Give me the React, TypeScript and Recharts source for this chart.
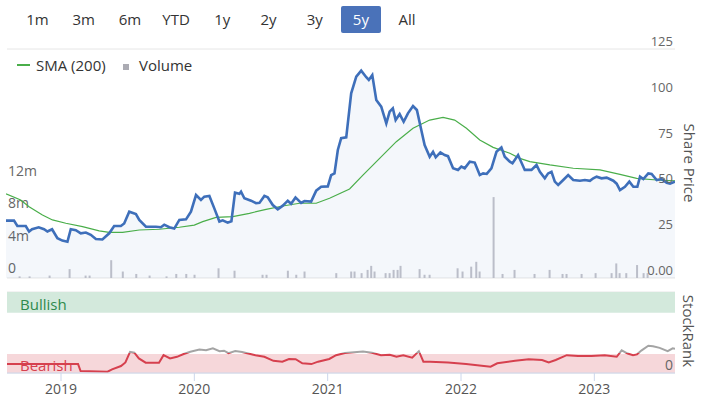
import React from 'react';
import { ComposedChart, BarChart, LineChart, Area, Line, Bar, XAxis, YAxis, CartesianGrid, ReferenceArea } from 'recharts';

const FONT = '"Open Sans", "Noto Sans", sans-serif';

// range selector
const ranges = ['1m', '3m', '6m', 'YTD', '1y', '2y', '3y', '5y', 'All'];
const selectedRange = '5y';

// time is in decimal years
const timeDomain = [2018.595, 2023.605];
const yearTicks = [2019, 2020, 2021, 2022, 2023];

const priceTicks = [0, 25, 50, 75, 100, 125];
const volumeTicks = [0, 4, 8, 12]; // millions
const volumeAxisMax = 28.3;
const rankTicks = [0, 100];

const priceDates = [
  2018.595, 2018.655, 2018.68, 2018.743, 2018.768, 2018.79, 2018.84, 2018.88, 2018.905, 2018.94,
  2018.98, 2019.017, 2019.055, 2019.08, 2019.118, 2019.155, 2019.193, 2019.23, 2019.268, 2019.317,
  2019.368, 2019.405, 2019.455, 2019.48, 2019.518, 2019.568, 2019.593, 2019.643, 2019.718, 2019.755,
  2019.78, 2019.818, 2019.855, 2019.893, 2019.943, 2019.98, 2020.018, 2020.055, 2020.08, 2020.118,
  2020.155, 2020.193, 2020.218, 2020.255, 2020.283, 2020.31, 2020.343, 2020.355, 2020.38, 2020.43,
  2020.468, 2020.493, 2020.53, 2020.555, 2020.593, 2020.63, 2020.668, 2020.705, 2020.73, 2020.763,
  2020.805, 2020.83, 2020.88, 2020.918, 2020.955, 2021.005, 2021.03, 2021.055, 2021.08, 2021.105,
  2021.143, 2021.18, 2021.218, 2021.255, 2021.293, 2021.312, 2021.338, 2021.368, 2021.405, 2021.443,
  2021.468, 2021.492, 2021.513, 2021.543, 2021.573, 2021.605, 2021.643, 2021.672, 2021.705, 2021.73,
  2021.768, 2021.793, 2021.813, 2021.848, 2021.88, 2021.905, 2021.943, 2021.98, 2022.005, 2022.03,
  2022.068, 2022.105, 2022.143, 2022.168, 2022.195, 2022.23, 2022.268, 2022.305, 2022.33, 2022.368,
  2022.388, 2022.43, 2022.48, 2022.53, 2022.568, 2022.593, 2022.63, 2022.655, 2022.68, 2022.705,
  2022.73, 2022.768, 2022.805, 2022.843, 2022.893, 2022.93, 2022.968, 2022.993, 2023.018, 2023.055,
  2023.093, 2023.143, 2023.168, 2023.193, 2023.23, 2023.263, 2023.293, 2023.323, 2023.343, 2023.368,
  2023.405, 2023.43, 2023.468, 2023.505, 2023.543, 2023.568, 2023.605,
];
const priceValues = [
  31.3, 31.3, 28.4, 28.4, 25.3, 26.6, 27.7, 26.6, 25.4, 26.6,
  21.7, 20.4, 19.8, 26.6, 26.1, 24.4, 24.8, 23.6, 21.3, 21.0,
  24.4, 28.4, 28.4, 29.8, 36.2, 34.9, 31.7, 28.0, 28.0, 27.7,
  29.1, 27.7, 27.0, 31.7, 32.0, 36.2, 45.3, 42.6, 44.4, 44.8,
  38.0, 30.8, 31.5, 30.2, 31.0, 46.6, 46.0, 47.1, 43.5, 42.2,
  40.8, 41.0, 44.8, 44.0, 39.8, 37.5, 39.5, 42.2, 40.5, 44.0,
  41.0, 42.0, 41.7, 47.7, 49.8, 50.0, 56.2, 57.1, 69.9, 76.3,
  76.8, 100.8, 109.9, 113.2, 109.6, 108.1, 110.8, 97.2, 93.5, 84.4,
  90.8, 92.6, 86.2, 89.5, 85.3, 89.9, 93.9, 91.7, 80.8, 72.6,
  66.2, 68.9, 65.9, 68.6, 67.1, 66.5, 59.9, 59.0, 60.8, 59.9,
  63.5, 63.0, 56.2, 57.1, 56.8, 59.9, 68.9, 71.3, 66.2, 63.5,
  62.6, 67.1, 59.0, 59.0, 61.7, 58.0, 54.4, 57.1, 58.0, 52.6,
  50.8, 53.5, 56.2, 53.5, 53.1, 53.5, 53.0, 54.4, 55.3, 54.4,
  54.8, 53.1, 51.5, 48.0, 49.8, 52.6, 49.8, 49.8, 55.3, 54.0,
  57.1, 56.8, 53.5, 54.0, 52.0, 51.5, 52.6,
];

// 200 day simple moving average
const smaDates = [
  2018.595, 2018.705, 2018.768, 2018.868, 2018.943, 2019.043, 2019.168, 2019.293, 2019.368, 2019.468,
  2019.593, 2019.743, 2019.893, 2020.005, 2020.068, 2020.168, 2020.293, 2020.418, 2020.543, 2020.668,
  2020.793, 2020.918, 2021.018, 2021.168, 2021.268, 2021.393, 2021.518, 2021.643, 2021.768, 2021.868,
  2021.955, 2022.043, 2022.143, 2022.243, 2022.368, 2022.443, 2022.518, 2022.668, 2022.843, 2023.043,
  2023.193, 2023.318, 2023.468, 2023.605,
];
const smaValues = [
  45.9, 42.6, 38.9, 34.4, 31.7, 29.9, 28.0, 25.7, 24.9, 24.9,
  26.2, 26.6, 27.7, 28.9, 30.8, 33.1, 33.5, 35.3, 37.5, 39.3,
  40.8, 40.8, 43.5, 48.6, 56.2, 65.3, 74.4, 81.7, 86.2, 87.7,
  86.2, 81.7, 75.3, 71.3, 68.1, 65.3, 63.5, 61.7, 59.9, 59.0,
  56.6, 54.4, 53.5, 53.0,
];

// volume, millions of shares
const volumeDates = [
  2018.693, 2018.768, 2018.918, 2019.068, 2019.188, 2019.218, 2019.38, 2019.467, 2019.568, 2019.668,
  2019.795, 2019.868, 2019.943, 2020.005, 2020.185, 2020.305, 2020.515, 2020.545, 2020.705,
  2020.768, 2020.83, 2021.068, 2021.18, 2021.205, 2021.258, 2021.303, 2021.33, 2021.355, 2021.438,
  2021.468, 2021.498, 2021.528, 2021.55, 2021.693, 2021.73, 2021.768, 2021.978, 2022.015, 2022.08,
  2022.118, 2022.143, 2022.248, 2022.315, 2022.405, 2022.555, 2022.668, 2022.765, 2022.795, 2022.908,
  2023.013, 2023.133, 2023.168, 2023.193, 2023.243, 2023.324, 2023.373, 2023.403,
];
const volumeValues = [
  0.2, 0.2, 0.3, 1.1, 0.3, 0.3, 2.2, 0.8, 0.5, 0.3,
  0.2, 0.5, 0.5, 0.4, 1.2, 0.9, 0.4, 0.4, 0.9,
  0.4, 0.8, 0.6, 0.8, 0.8, 0.6, 1.0, 1.5, 0.8, 0.6,
  0.6, 1.0, 1.0, 1.5, 1.1, 0.4, 0.4, 1.2, 0.8, 1.4,
  2.0, 0.8, 10.0, 0.5, 1.0, 0.5, 1.0, 0.5, 0.5, 0.5,
  0.6, 0.6, 1.8, 0.6, 0.6, 1.6, 0.6, 0.6,
];

// StockRank (0 - 100)
const rankDates = [
  2018.595, 2019.128, 2019.147, 2019.349, 2019.383, 2019.45, 2019.483, 2019.518, 2019.55, 2019.584,
  2019.635, 2019.735, 2019.769, 2019.818, 2019.87, 2019.92, 2019.97, 2020.038, 2020.088, 2020.139,
  2020.189, 2020.223, 2020.256, 2020.307, 2020.358, 2020.458, 2020.525, 2020.593, 2020.66, 2020.71,
  2020.76, 2020.81, 2020.878, 2020.928, 2021.012, 2021.063, 2021.13, 2021.198, 2021.265, 2021.332,
  2021.4, 2021.466, 2021.516, 2021.567, 2021.634, 2021.684, 2021.718, 2021.768, 2021.903, 2022.038,
  2022.172, 2022.222, 2022.272, 2022.406, 2022.508, 2022.608, 2022.658, 2022.71, 2022.793, 2022.878,
  2022.978, 2023.078, 2023.168, 2023.205, 2023.25, 2023.29, 2023.32, 2023.355, 2023.405, 2023.44,
  2023.49, 2023.55, 2023.588, 2023.605,
];
const rankValues = [
  11, 11, 2.5, 1.6, 4.5, 8.6, 13, 26, 25, 18,
  12.7, 12.7, 22, 18, 20, 23.5, 26.3, 29, 28, 30.5,
  27, 27.5, 24.5, 27, 26, 22, 20, 15, 14, 17.3,
  17, 12, 11, 14, 17.3, 22, 24.7, 25.5, 26.5, 25,
  22, 22.5, 20, 22, 19, 27, 14, 14, 13, 11,
  8.6, 7.8, 12, 15, 17, 16, 13, 16, 22, 21,
  21, 22, 20, 28, 24, 22, 23, 28, 33.7, 33,
  31, 27, 30.5, 30,
];
const bearishBand = [0, 23.5];
const bullishBand = [74.5, 100];
const rankColourSwitch = 24.8; // grey above this

type PriceRow = { t: number; price?: number; sma?: number };

const buildPriceTable = (): PriceRow[] => {
  const rows = new Map<number, PriceRow>();
  const add = (dates: number[], values: number[], key: 'price' | 'sma') => {
    dates.forEach((t, i) => {
      const row = rows.get(t) ?? { t };
      row[key] = values[i];
      rows.set(t, row);
    });
  };
  add(priceDates, priceValues, 'price');
  add(smaDates, smaValues, 'sma');
  return [...rows.values()].sort((a, b) => a.t - b.t);
};

const priceTable = buildPriceTable();
const volumeTable = volumeDates.map((t, i) => ({ t, volume: volumeValues[i] }));
const rankTable = rankDates.map((t, i) => ({ t, rank: rankValues[i] }));

const rankMax = Math.max(...rankValues);
const rankMin = Math.min(...rankValues);
const rankOffset = (rankMax - rankColourSwitch) / (rankMax - rankMin);

const PLOT_LEFT = 7;
const PLOT_RIGHT = 675;
const MAIN_MARGIN = { top: 49, right: 26, bottom: 12, left: 6 };

// tick labels sit just above their grid line, inside the plot (highcharts style)
const priceTick = (props: any) => (
  <text x={PLOT_RIGHT - 2} y={props.y - 3} textAnchor="end" fill="#666" fontSize={13} fontFamily={FONT}>
    {props.payload.value === 0 ? '0.00' : props.payload.value}
  </text>
);

const volumeTick = (props: any) => (
  <text x={PLOT_LEFT + 1} y={props.y - 5} textAnchor="start" fill="#666" fontSize={14} fontFamily={FONT}>
    {props.payload.value === 0 ? '0' : `${props.payload.value}m`}
  </text>
);

const rankTick = (props: any) =>
  props.payload.value === 0 ? (
    <text x={PLOT_RIGHT - 2} y={props.y - 3} textAnchor="end" fill="#666" fontSize={14} fontFamily={FONT}>
      0
    </text>
  ) : (
    <g />
  );

const noTick = () => <g />;

const VerticalTitle = ({ text, left, top }: { text: string; left: number; top: number }) => (
  <div
    style={{
      position: 'absolute',
      left,
      top,
      transform: 'translate(-50%, -50%) rotate(90deg)',
      whiteSpace: 'nowrap',
      fontSize: 15,
      color: '#555',
    }}
  >
    {text}
  </div>
);

export default function App() {
  return (
    <div style={{ position: 'relative', width: 702, height: 397, background: '#fff', fontFamily: FONT, overflow: 'hidden' }}>
      <style>{'body{margin:0}'}</style>

      {/* bottom layer: grid lines, volume bars and volume axis */}
      <div style={{ position: 'absolute', left: 0, top: 0 }}>
        <BarChart width={702} height={290} data={volumeTable} margin={MAIN_MARGIN}>
          <CartesianGrid yAxisId="price" vertical={false} stroke="#e6e6e6" />
          <XAxis dataKey="t" type="number" domain={timeDomain} allowDataOverflow hide />
          <YAxis
            yAxisId="vol"
            orientation="left"
            width={1}
            domain={[0, volumeAxisMax]}
            ticks={volumeTicks}
            interval={0}
            axisLine={false}
            tickLine={false}
            tick={volumeTick}
          />
          <YAxis yAxisId="price" orientation="right" width={1} domain={[0, 125]} ticks={priceTicks} axisLine={false} tickLine={false} tick={noTick} />
          <Bar yAxisId="vol" dataKey="volume" fill="#c3c3cb" barSize={2} isAnimationActive={false} />
        </BarChart>
      </div>

      {/* top layer: price area, SMA and price axis */}
      <div style={{ position: 'absolute', left: 0, top: 0 }}>
        <ComposedChart width={702} height={290} data={priceTable} margin={MAIN_MARGIN}>
          <XAxis dataKey="t" type="number" domain={timeDomain} allowDataOverflow hide />
          <YAxis yAxisId="left" orientation="left" width={1} hide />
          <YAxis
            yAxisId="price"
            orientation="right"
            width={1}
            domain={[0, 125]}
            ticks={priceTicks}
            interval={0}
            axisLine={false}
            tickLine={false}
            tick={priceTick}
          />
          <Area yAxisId="price" dataKey="price" stroke="none" fill="#3e6fba" fillOpacity={0.055} connectNulls isAnimationActive={false} />
          <Line yAxisId="price" dataKey="sma" stroke="#4aae4a" strokeWidth={1.2} dot={false} connectNulls isAnimationActive={false} />
          <Line yAxisId="price" dataKey="price" stroke="#3e6fba" strokeWidth={2.6} dot={false} connectNulls isAnimationActive={false} />
        </ComposedChart>
      </div>

      <div style={{ position: 'absolute', left: 0, top: 285 }}>
        <LineChart width={702} height={112} data={rankTable} margin={{ top: 7, right: 26, bottom: 0, left: 7 }}>
          <defs>
            <linearGradient id="rankStroke" x1="0" y1="0" x2="0" y2="1">
              <stop offset={0} stopColor="#a4a4a4" />
              <stop offset={rankOffset} stopColor="#a4a4a4" />
              <stop offset={rankOffset} stopColor="#d6404e" />
              <stop offset={1} stopColor="#d6404e" />
            </linearGradient>
          </defs>
          <CartesianGrid vertical={false} stroke="#e6e6e6" />
          <ReferenceArea
            y1={bullishBand[0]}
            y2={bullishBand[1]}
            fill="#d3e9dc"
            fillOpacity={1}
            label={{ value: 'Bullish', position: 'insideLeft', offset: 13, dy: 2, fill: '#2f8a4c', fontSize: 15, fontFamily: FONT }}
          />
          <ReferenceArea
            y1={bearishBand[0]}
            y2={bearishBand[1]}
            fill="#f6d7da"
            fillOpacity={1}
            label={{ value: 'Bearish', position: 'insideLeft', offset: 13, dy: 2.5, fill: '#d6404e', fontSize: 15, fontFamily: FONT }}
          />
          <XAxis
            dataKey="t"
            type="number"
            domain={timeDomain}
            allowDataOverflow
            ticks={yearTicks}
            tickSize={8}
            tickMargin={3}
            height={24}
            stroke="#ccd6eb"
            tick={{ fill: '#555', fontSize: 14, fontFamily: FONT }}
          />
          <YAxis
            orientation="right"
            width={1}
            domain={[0, 100]}
            ticks={rankTicks}
            interval={0}
            axisLine={false}
            tickLine={false}
            tick={rankTick}
          />
          <Line dataKey="rank" stroke="url(#rankStroke)" strokeWidth={2} dot={false} isAnimationActive={false} />
        </LineChart>
      </div>

      {ranges.map((r, i) => {
        const active = r === selectedRange;
        return (
          <div
            key={r}
            style={{
              position: 'absolute',
              left: 17.5 + i * 46.2,
              top: 6,
              width: 40,
              height: 27,
              lineHeight: '27px',
              textAlign: 'center',
              fontSize: 15,
              color: active ? '#fff' : '#333',
              background: active ? '#4a72b9' : 'transparent',
              borderRadius: 2,
            }}
          >
            {r}
          </div>
        );
      })}

      <div style={{ position: 'absolute', left: 17, top: 64, width: 13, height: 1.5, background: '#4aae4a' }} />
      <div style={{ position: 'absolute', left: 36, top: 55, fontSize: 15, lineHeight: '20px', color: '#333' }}>SMA (200)</div>
      <div style={{ position: 'absolute', left: 123, top: 64, width: 6, height: 6, background: '#ababb3' }} />
      <div style={{ position: 'absolute', left: 139, top: 55, fontSize: 15, lineHeight: '20px', color: '#333' }}>Volume</div>

      <VerticalTitle text="Share Price" left={690} top={162.5} />
      <VerticalTitle text="StockRank" left={689} top={331} />
    </div>
  );
}
